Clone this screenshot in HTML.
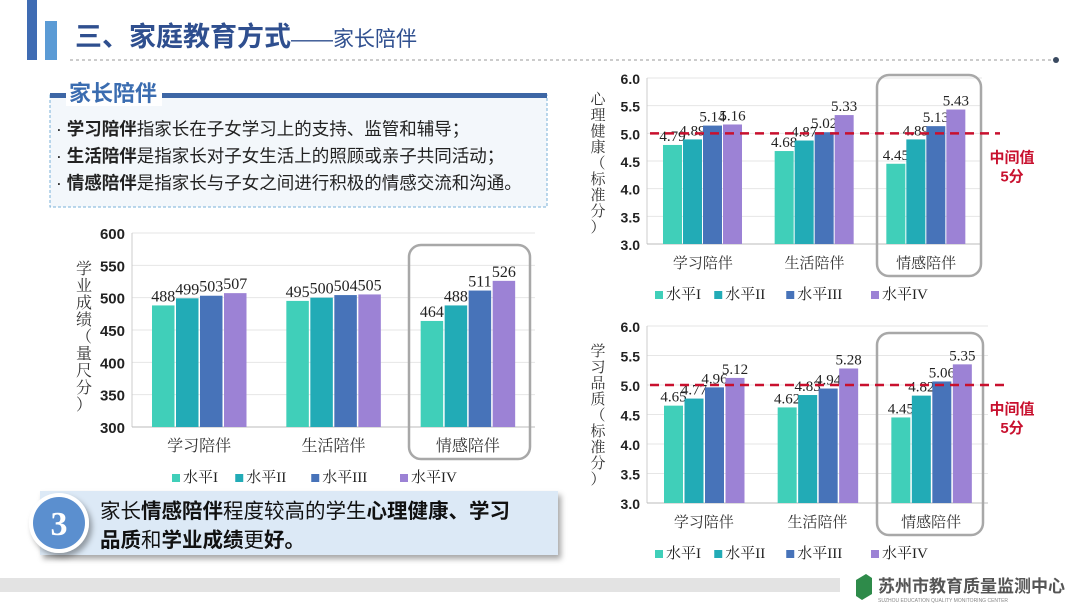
<!DOCTYPE html>
<html><head><meta charset="utf-8">
<style>
body{margin:0;background:#fff;}
svg{display:block;font-family:"Liberation Serif","Noto Serif CJK SC",serif;}
.sans{font-family:"Liberation Sans","Noto Sans CJK SC",sans-serif;}
</style></head>
<body>
<svg id="s" width="1080" height="608" viewBox="0 0 1080 608" xmlns="http://www.w3.org/2000/svg">
<defs>
<filter id="sh" x="-10%" y="-20%" width="130%" height="160%"><feDropShadow dx="3" dy="4" stdDeviation="3" flood-color="#000" flood-opacity="0.35"/></filter>
</defs>
<!-- header -->
<rect x="27" y="0" width="10" height="60" fill="#3f6cb3"/>
<rect x="45" y="21" width="12" height="39" fill="#5b9bd5"/>
<text x="75" y="46" class="sans" font-size="27" font-weight="bold" fill="#2f4f8f">三、家庭教育方式<tspan font-weight="normal" font-size="21">——家长陪伴</tspan></text>
<line x1="70" y1="60" x2="1052" y2="60" stroke="#999" stroke-dasharray="3,3"/>
<circle cx="1056" cy="60" r="3" fill="#3a4a60"/>
<!-- definition box -->
<rect x="50" y="95" width="497" height="112" fill="#f3f7fb" stroke="#7ab0d8" stroke-dasharray="3,2"/>
<rect x="50" y="93" width="497" height="5" fill="#3d66a5"/>
<rect x="66" y="82" width="96" height="24" fill="#fff"/>
<text x="69" y="101" class="sans" font-size="22" font-weight="bold" fill="#3a6cb0">家长陪伴</text>
<g class="sans" font-size="17.5" fill="#222">
<text x="56" y="135">· <tspan font-weight="bold">学习陪伴</tspan>指家长在子女学习上的支持、监管和辅导；</text>
<text x="56" y="162">· <tspan font-weight="bold">生活陪伴</tspan>是指家长对子女生活上的照顾或亲子共同活动；</text>
<text x="56" y="189">· <tspan font-weight="bold">情感陪伴</tspan>是指家长与子女之间进行积极的情感交流和沟通。</text>
</g>
<!-- callout -->
<rect x="40" y="491" width="518" height="64" fill="#dce9f6" filter="url(#sh)"/>
<circle cx="59" cy="523" r="30" fill="#fff" filter="url(#sh)"/>
<circle cx="59" cy="523" r="26" fill="#5b8fcf"/>
<text x="59" y="535" text-anchor="middle" font-size="34" font-weight="bold" fill="#fff">3</text>
<g class="sans" font-size="20.5" fill="#111">
<text x="100" y="518">家长<tspan font-weight="bold">情感陪伴</tspan>程度较高的学生<tspan font-weight="bold">心理健康、学习</tspan></text>
<text x="100" y="547"><tspan font-weight="bold">品质</tspan>和<tspan font-weight="bold">学业成绩</tspan>更<tspan font-weight="bold">好。</tspan></text>
</g>
<!-- footer -->
<rect x="0" y="578" width="840" height="14" fill="#e3e3e3"/>
<path d="M856 580 l10 -6 l6 4 l0 16 l-10 6 l-6 -4z" fill="#2e8b4a"/>
<text x="878" y="592" class="sans" font-size="17" font-weight="bold" fill="#555">苏州市教育质量监测中心</text>
<text x="878" y="602" class="sans" font-size="5" fill="#888">SUZHOU EDUCATION QUALITY MONITORING CENTER</text>
<g id="charts"></g>
</svg>
<script>
const categories=["学习陪伴","生活陪伴","情感陪伴"];
const seriesNames=["水平I","水平II","水平III","水平IV"];
const colors=["#40cfb9","#22abb6","#4773b9","#9c82d5"];
const scoreValues=[[488,495,464],[499,500,488],[503,504,511],[507,505,526]];
const scoreTicks=[300,350,400,450,500,550,600];
const mentalValues=[[4.79,4.68,4.45],[4.89,4.87,4.89],[5.14,5.02,5.13],[5.16,5.33,5.43]];
const qualityValues=[[4.65,4.62,4.45],[4.77,4.83,4.82],[4.96,4.94,5.06],[5.12,5.28,5.35]];
const stdTicks=[3.0,3.5,4.0,4.5,5.0,5.5,6.0];
const midValue=[5.0];

const NS="http://www.w3.org/2000/svg";
const root=document.getElementById('charts');
function mk(tag,attrs,parent){const e=document.createElementNS(NS,tag);for(const k in attrs)e.setAttribute(k,attrs[k]);(parent||root).appendChild(e);return e;}

function chart(cfg){
  const g=mk('g',{});
  
  
  const lo=cfg.ticks[0],hi=cfg.ticks[cfg.ticks.length-1];
  const y=v=>cfg.y1-(v-lo)/(hi-lo)*(cfg.y1-cfg.y0);
  const gw=(cfg.x1-cfg.x0)/categories.length;
  const x=(ci,si)=>cfg.x0+ci*gw+cfg.off+si*cfg.step;
  cfg.ticks.forEach(t=>{
    if(t!==lo){const l=mk('line',{x1:cfg.x0,x2:cfg.x1,y1:y(t),y2:y(t),stroke:'#e6e6e6'},g);
      }
    const tx=mk('text',{x:cfg.x0-7,y:y(t)+6,'text-anchor':'end','font-size':cfg.tfs,'fill':'#222',class:'sans','font-weight':'bold'},g);
    tx.textContent=cfg.fmt(t);
    
  });
  const ax=mk('line',{x1:cfg.x0,x2:cfg.x0,y1:cfg.y0,y2:cfg.y1,stroke:'#ccc'},g);
  
  const bx=mk('line',{x1:cfg.x0,x2:cfg.x1,y1:cfg.y1,y2:cfg.y1,stroke:'#bbb'},g);
  
  const hb=mk('rect',{x:cfg.hb[0],y:cfg.hb[1],width:cfg.hb[2],height:cfg.hb[3],rx:12,fill:'none',stroke:'#a8a8a8','stroke-width':2.5},g);
  
  cfg.values.forEach((ser,si)=>ser.forEach((v,ci)=>{
    const b=mk('rect',{x:x(ci,si),y:y(v),width:cfg.bw,height:cfg.y1-y(v),fill:colors[si]},g);
    
    
    const t=mk('text',{x:x(ci,si)+cfg.bw/2,y:y(v)-4,'text-anchor':'middle','font-size':cfg.lfs,fill:'#222'},g);
    t.textContent=cfg.fmt(v);
    
  }));
  categories.forEach((c,ci)=>{
    const t=mk('text',{x:cfg.x0+ci*gw+gw/2,y:cfg.y1+24,'text-anchor':'middle','font-size':cfg.cfs,fill:'#333'},g);
    t.textContent=c;
  });
  const yt=mk('text',{x:cfg.ytx,y:cfg.yty,'font-size':cfg.yfs,fill:'#333'},g);
  
  [...cfg.ytitle].forEach((ch,i)=>{const ts=mk('tspan',{x:cfg.ytx,dy:i?cfg.yfs+1:0,'text-anchor':'middle'},yt);ts.textContent=ch;});
  let lx=cfg.legx;
  seriesNames.forEach((n,si)=>{
    const r=mk('rect',{x:lx,y:cfg.legy-8,width:8,height:8,fill:colors[si]},g);
    
    const t=mk('text',{x:lx+11,y:cfg.legy,'font-size':cfg.lgfs,fill:'#222'},g);
    t.textContent=n;
    lx+=11+n.length*cfg.lgfs*0.85+cfg.leggap;
  });
  if(cfg.mid){
    const l=mk('line',{x1:cfg.x0+3,x2:cfg.x1+18,y1:y(midValue[0]),y2:y(midValue[0]),stroke:'#c8102e','stroke-width':2.5,'stroke-dasharray':'9,6'},g);
    
    const t1=mk('text',{x:1012,y:y(midValue[0])+29,'text-anchor':'middle','font-size':15,'font-weight':'bold',fill:'#c8102e',class:'sans'},g);
    t1.textContent='中间值';
    const t2=mk('text',{x:1012,y:y(midValue[0])+48,'text-anchor':'middle','font-size':15,'font-weight':'bold',fill:'#c8102e',class:'sans'},g);
    t2.textContent='5分';
  }
}
chart({name:'academic-score-chart',values:scoreValues,ticks:scoreTicks,x0:132,x1:535,y0:233,y1:427,off:20,step:24,bw:22.5,
  fmt:v=>String(v),tfs:15,lfs:16,cfs:16,yfs:16,ytitle:'学业成绩（量尺分）',ytx:84,yty:274,
  hb:[409,245,121,214],legx:172,legy:482,lgfs:15,leggap:14});
chart({name:'mental-health-chart',values:mentalValues,ticks:stdTicks,x0:647,x1:982,y0:78,y1:244,off:16,step:20,bw:19,
  fmt:v=>v.toFixed(2).replace(/^(\d\.\d)0$/,'$1'),tfs:14,lfs:15,cfs:15,yfs:15,ytitle:'心理健康（标准分）',ytx:598,yty:104,
  hb:[877,75,104,201],mid:true,legx:655,legy:299,lgfs:15,leggap:10});
chart({name:'learning-quality-chart',values:qualityValues,ticks:stdTicks,x0:647,x1:988,y0:326,y1:503,off:17,step:20.5,bw:19,
  fmt:v=>v.toFixed(2).replace(/^(\d\.\d)0$/,'$1'),tfs:14,lfs:15,cfs:15,yfs:15,ytitle:'学习品质（标准分）',ytx:598,yty:356,
  hb:[877,333,106,202],mid:true,legx:655,legy:558,lgfs:15,leggap:10});
</script>
</body></html>
